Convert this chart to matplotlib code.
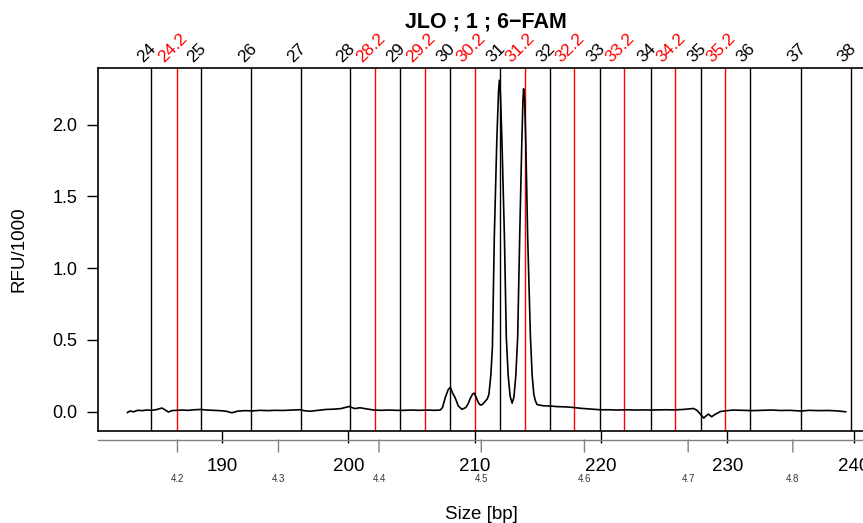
import numpy as np
import matplotlib.pyplot as plt
import matplotlib.transforms as mtransforms

plt.rcParams['font.family'] = ['Liberation Sans', 'DejaVu Sans']

# allele bins (black = integer repeats, red = .2 variants)
alleles = ['24', '24.2', '25', '26', '27', '28', '28.2', '29', '29.2', '30', '30.2',
           '31', '31.2', '32', '32.2', '33', '33.2', '34', '34.2', '35', '35.2',
           '36', '37', '38']
allele_bp = [184.37, 186.41, 188.34, 192.32, 196.26, 200.14, 202.07, 204.05, 206.06,
             208.01, 209.99, 211.97, 213.95, 215.97, 217.89, 219.90, 221.83, 223.94,
             225.84, 227.90, 229.83, 231.78, 235.86, 239.76]

# secondary scale labels
sec_labels = ['4.2', '4.3', '4.4', '4.5', '4.6', '4.7', '4.8']
sec_bp = [186.46, 194.46, 202.42, 210.52, 218.69, 226.90, 235.19]

# electropherogram trace (size in bp, RFU/1000)
size_bp = [182.50, 182.7, 183.0, 183.3, 183.7, 184.0, 184.4, 184.8, 185.22, 185.5,
           185.74, 186.0, 186.4, 186.8, 187.3, 187.8, 188.26, 188.8, 189.3, 189.8,
           190.3, 190.77, 191.2, 191.8, 192.4, 193.0, 193.6, 194.2, 194.8, 195.5,
           196.18, 196.6, 197.0, 197.6, 198.2, 198.8, 199.4, 200.06, 200.5, 200.9,
           201.47, 202.0, 202.6, 203.2, 203.8, 204.4, 205.0, 205.6, 206.2, 206.8,
           207.27, 207.45, 207.67, 207.9, 208.07, 208.25, 208.46, 208.7, 208.99, 209.3,
           209.5, 209.65, 209.85, 209.97, 210.18, 210.31, 210.44, 210.6, 210.8, 211.0,
           211.12, 211.27, 211.4, 211.55, 211.75, 211.88, 211.95, 212.03, 212.15, 212.35,
           212.5, 212.65, 212.8, 212.96, 213.1, 213.25, 213.4, 213.56, 213.72, 213.82,
           213.87, 213.95, 214.05, 214.19, 214.41, 214.55, 214.68, 214.80, 214.94, 215.4,
           215.99, 216.5, 217.2, 217.81, 218.4, 219.0, 219.95, 220.6, 221.3, 222.0,
           222.7, 223.3, 223.91, 224.5, 225.1, 225.8, 226.5, 227.0, 227.32, 227.6,
           227.9, 228.14, 228.3, 228.51, 228.75, 229.0, 229.46, 230.0, 230.49, 231.2,
           232.0, 232.8, 233.5, 234.2, 235.0, 235.8, 236.5, 237.2, 238.0, 238.7,
           239.37]
rfu = [-0.005, 0.005, 0.0, 0.01, 0.008, 0.012, 0.01, 0.015, 0.026, 0.012,
       -0.002, 0.008, 0.01, 0.012, 0.01, 0.014, 0.016, 0.012, 0.01, 0.008,
       0.004, -0.007, 0.004, 0.008, 0.006, 0.01, 0.008, 0.01, 0.009, 0.012,
       0.014, 0.006, 0.004, 0.01, 0.016, 0.018, 0.022, 0.037, 0.022, 0.028,
       0.02, 0.012, 0.01, 0.012, 0.01, 0.01, 0.012, 0.01, 0.012, 0.01,
       0.012, 0.03, 0.10, 0.155, 0.17, 0.13, 0.095, 0.04, 0.017, 0.03,
       0.06, 0.095, 0.125, 0.13, 0.085, 0.06, 0.047, 0.05, 0.07, 0.09,
       0.12, 0.25, 0.45, 1.22, 1.9, 2.22, 2.31, 2.22, 1.9, 1.22,
       0.52, 0.25, 0.11, 0.06, 0.1, 0.25, 0.52, 1.22, 1.85, 2.18,
       2.25, 2.18, 1.85, 1.22, 0.52, 0.25, 0.12, 0.077, 0.05, 0.042,
       0.04, 0.036, 0.034, 0.03, 0.024, 0.02, 0.014, 0.014, 0.012, 0.014,
       0.012, 0.013, 0.012, 0.013, 0.014, 0.013, 0.016, 0.02, 0.023, 0.01,
       -0.02, -0.044, -0.03, -0.016, -0.035, -0.02, 0.002, 0.008, 0.012, 0.01,
       0.008, 0.01, 0.012, 0.009, 0.01, 0.005, 0.01, 0.008, 0.009, 0.006,
       0.0]

fig = plt.figure(figsize=(8.63, 5.23), dpi=100)
ax = fig.add_axes([0.1136, 0.1759, 0.8894, 0.6941])

for lab, bp in zip(alleles, allele_bp):
    col = 'red' if '.' in lab else 'black'
    ax.axvline(bp, color=col, lw=1.0, zorder=1)
ax.plot(size_bp, rfu, color='black', lw=1.2, zorder=3)

ax.set_xlim(180.17, 240.95)
ax.set_ylim(-0.134, 2.395)

# allele labels on top, rotated
top = mtransforms.blended_transform_factory(ax.transData, ax.transAxes)
lab_tr = top + mtransforms.ScaledTranslation(-4 / 100, 3 / 100, fig.dpi_scale_trans)
for lab, bp in zip(alleles, allele_bp):
    col = 'red' if '.' in lab else 'black'
    ax.text(bp, 1.0, lab, transform=lab_tr, rotation=45, ha='center', va='bottom',
            fontsize=12.5, color=col, clip_on=False)

ax.set_xticks([190, 200, 210, 220, 230, 240])
ax.set_yticks([0.0, 0.5, 1.0, 1.5, 2.0])
ax.set_yticklabels(['0.0', '0.5', '1.0', '1.5', '2.0'])
ax.tick_params(axis='x', length=8.6, width=1, pad=11, labelsize=13.5)
ax.tick_params(axis='y', length=8, width=1, pad=7, labelsize=13)
for s in ax.spines.values():
    s.set_linewidth(1.2)

# secondary grey scale below axis
sec_y = mtransforms.blended_transform_factory(ax.transData, ax.transAxes)
off = lambda dy: sec_y + mtransforms.ScaledTranslation(0, dy / 100, fig.dpi_scale_trans)
ax.plot([180.17, 240.95], [0, 0], transform=off(-9), color='grey', lw=1, clip_on=False)
for lab, bp in zip(sec_labels, sec_bp):
    ax.annotate('', xy=(bp, 0), xycoords=off(-9), xytext=(bp, 0), textcoords=off(-21),
                arrowprops=dict(arrowstyle='-', color='grey', lw=1, shrinkA=0, shrinkB=0))
    ax.text(bp, 0, lab, transform=off(-48), ha='center', va='center', fontsize=7,
            color='#333333', clip_on=False)

ax.set_xlabel('Size [bp]', fontsize=13.5, labelpad=22)
ax.set_ylabel('RFU/1000', fontsize=13.5, labelpad=18)
fig.text(0.563, 0.958, 'JLO ; 1 ; 6\u2212FAM', fontsize=15.5, fontweight='bold',
         ha='center', va='center')

plt.savefig('out.png', dpi=100)
